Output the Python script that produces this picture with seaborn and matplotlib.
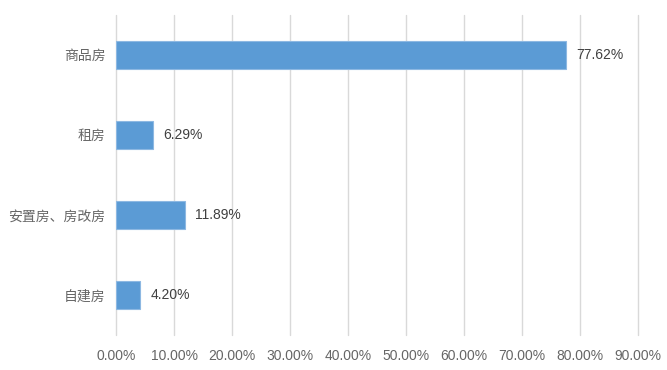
import matplotlib
matplotlib.use("Agg")
import matplotlib.pyplot as plt
import seaborn as sns
import pandas as pd
from matplotlib.ticker import FuncFormatter

# 数据
categories = ["商品房", "租房", "安置房、房改房", "自建房"]
shares = [77.62, 6.29, 11.89, 4.20]
xticks = [0, 10, 20, 30, 40, 50, 60, 70, 80, 90]

df = pd.DataFrame({"类型": categories, "占比": shares})

sns.set_style("white")
plt.rcParams["font.family"] = ["Liberation Sans", "Noto Sans CJK SC", "DejaVu Sans"]

fig = plt.figure(figsize=(6.67, 3.70), dpi=100)
ax = fig.add_axes([0.174, 0.095, 0.7825, 0.865])

sns.barplot(data=df, x="占比", y="类型", color="#5B9BD5", width=0.35,
            saturation=1, edgecolor="#8DB8E2", linewidth=0.8, ax=ax, zorder=3)

ax.set_xlim(0, 90)
ax.set_ylim(3.5, -0.5)
ax.set_xticks(xticks)
ax.xaxis.set_major_formatter(FuncFormatter(lambda v, p: f"{v:.2f}%"))
ax.grid(axis="x", color="#D9D9D9", linewidth=1, zorder=0)
for gl in ax.get_xgridlines():
    gl.set_clip_on(False)
ax.set_xlabel("")
ax.set_ylabel("")
for s in ax.spines.values():
    s.set_visible(False)
ax.tick_params(axis="both", length=0, colors="#666666", labelsize=10)
ax.tick_params(axis="y", pad=7.5)
ax.tick_params(axis="x", pad=10)
for lab in ax.get_yticklabels():
    lab.set_family(["Noto Sans CJK SC", "DejaVu Sans"])

for i, v in enumerate(shares):
    ax.text(v + 1.8, i, f"{v:.2f}%", va="center", ha="left",
            fontsize=10, color="#404040")

fig.savefig("out.png", dpi=100)
